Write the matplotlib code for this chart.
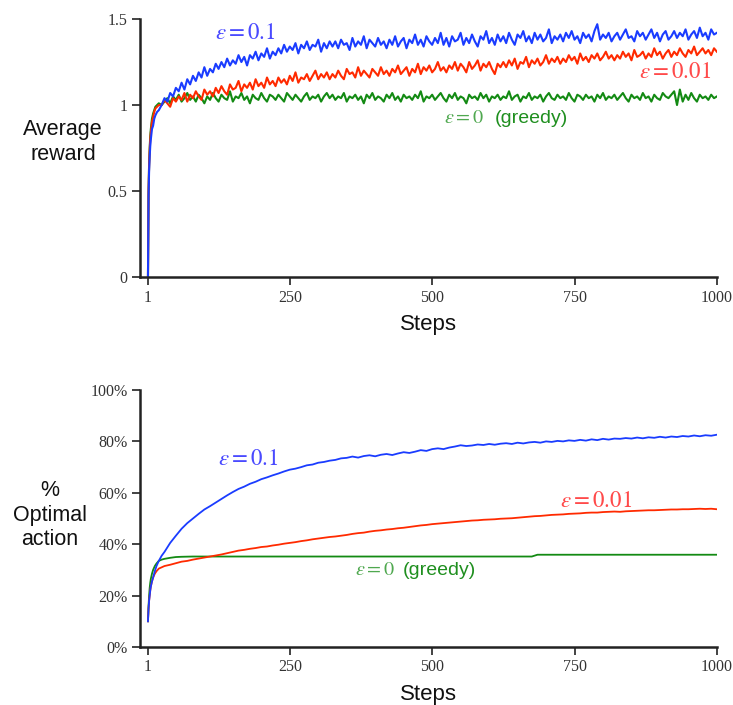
"""Average reward and % optimal action on the 10-armed testbed."""

import matplotlib.pyplot as plt

plt.rcParams["mathtext.fontset"] = "stix"

# ---------------- top panel: average reward ----------------
reward_steps = [1, 2, 3, 4, 5, 6, 8, 10, 12, 14, 17, 20] + list(range(25, 1001, 5))

reward_eps01 = [
    0.0, 0.47, 0.62, 0.70, 0.76, 0.80, 0.86, 0.88, 0.92, 0.94, 0.96, 0.97,
    1.00, 1.04, 1.02, 1.07, 1.05, 1.10, 1.08, 1.13, 1.09, 1.15, 1.12, 1.17, 1.14, 1.19, 1.16, 1.22, 1.17, 1.21, 1.19, 1.24,
    1.21, 1.25, 1.22, 1.27, 1.23, 1.26, 1.24, 1.29, 1.25, 1.28, 1.23, 1.29, 1.27, 1.31, 1.26, 1.30, 1.28, 1.33, 1.27, 1.31,
    1.29, 1.33, 1.30, 1.35, 1.31, 1.34, 1.32, 1.36, 1.30, 1.35, 1.33, 1.37, 1.32, 1.35, 1.34, 1.38, 1.31, 1.36, 1.33, 1.37,
    1.34, 1.37, 1.33, 1.38, 1.35, 1.36, 1.32, 1.39, 1.34, 1.37, 1.35, 1.40, 1.33, 1.38, 1.36, 1.34, 1.39, 1.35, 1.37, 1.33,
    1.38, 1.35, 1.40, 1.34, 1.37, 1.39, 1.33, 1.38, 1.36, 1.41, 1.35, 1.38, 1.34, 1.40, 1.37, 1.35, 1.39, 1.36, 1.42, 1.35,
    1.39, 1.34, 1.40, 1.37, 1.38, 1.42, 1.35, 1.39, 1.36, 1.41, 1.37, 1.34, 1.40, 1.38, 1.43, 1.36, 1.39, 1.35, 1.41, 1.37,
    1.40, 1.36, 1.42, 1.38, 1.35, 1.41, 1.39, 1.43, 1.37, 1.40, 1.36, 1.42, 1.38, 1.41, 1.37, 1.39, 1.44, 1.36, 1.40, 1.38,
    1.41, 1.37, 1.42, 1.39, 1.43, 1.38, 1.40, 1.36, 1.42, 1.39, 1.41, 1.37, 1.43, 1.47, 1.38, 1.41, 1.39, 1.42, 1.37, 1.40,
    1.42, 1.38, 1.41, 1.44, 1.39, 1.40, 1.37, 1.43, 1.40, 1.42, 1.38, 1.41, 1.44, 1.39, 1.42, 1.37, 1.41, 1.43, 1.38, 1.40,
    1.43, 1.39, 1.42, 1.40, 1.44, 1.38, 1.41, 1.43, 1.39, 1.45, 1.40, 1.42, 1.38, 1.44, 1.41, 1.42,
]

reward_eps001 = [
    0.0, 0.50, 0.65, 0.74, 0.80, 0.84, 0.90, 0.93, 0.96, 0.98, 0.99, 1.00,
    1.00, 1.03, 1.01, 0.99, 1.04, 1.02, 1.05, 1.03, 1.07, 1.02, 1.06, 1.04, 1.08, 1.05, 1.03, 1.09, 1.06, 1.08, 1.05, 1.10,
    1.07, 1.11, 1.08, 1.06, 1.12, 1.09, 1.10, 1.14, 1.08, 1.12, 1.10, 1.13, 1.09, 1.15, 1.11, 1.13, 1.10, 1.16, 1.12, 1.14,
    1.11, 1.16, 1.13, 1.15, 1.12, 1.17, 1.14, 1.19, 1.13, 1.16, 1.15, 1.18, 1.14, 1.17, 1.20, 1.15, 1.18, 1.16, 1.19, 1.15,
    1.18, 1.16, 1.20, 1.17, 1.15, 1.21, 1.18, 1.19, 1.16, 1.22, 1.17, 1.20, 1.18, 1.16, 1.21, 1.19, 1.17, 1.22, 1.18, 1.20,
    1.17, 1.21, 1.19, 1.23, 1.18, 1.20, 1.22, 1.17, 1.21, 1.19, 1.24, 1.18, 1.22, 1.20, 1.23, 1.19, 1.21, 1.25, 1.20, 1.22,
    1.19, 1.23, 1.21, 1.25, 1.20, 1.24, 1.22, 1.19, 1.25, 1.21, 1.23, 1.26, 1.20, 1.24, 1.22, 1.25, 1.21, 1.18, 1.24, 1.22,
    1.25, 1.22, 1.26, 1.23, 1.27, 1.21, 1.25, 1.24, 1.28, 1.22, 1.26, 1.24, 1.27, 1.23, 1.25, 1.29, 1.24, 1.27, 1.25, 1.28,
    1.24, 1.27, 1.25, 1.29, 1.26, 1.28, 1.24, 1.30, 1.26, 1.28, 1.25, 1.29, 1.27, 1.30, 1.26, 1.28, 1.31, 1.27, 1.29, 1.26,
    1.29, 1.27, 1.31, 1.28, 1.30, 1.26, 1.32, 1.28, 1.29, 1.31, 1.27, 1.30, 1.28, 1.33, 1.29, 1.31, 1.27, 1.30, 1.32, 1.28,
    1.31, 1.29, 1.33, 1.30, 1.28, 1.32, 1.30, 1.34, 1.29, 1.31, 1.33, 1.30, 1.32, 1.29, 1.33, 1.31,
]

reward_eps0 = [
    0.0, 0.48, 0.66, 0.75, 0.82, 0.86, 0.92, 0.95, 0.97, 0.99, 1.00, 1.01,
    1.00, 1.02, 1.04, 1.01, 1.05, 1.03, 1.06, 1.02, 1.04, 1.07, 1.03, 1.05, 1.02, 1.06, 1.04, 1.01, 1.05, 1.03, 1.07, 1.04,
    1.02, 1.06, 1.04, 1.03, 1.08, 1.02, 1.05, 1.04, 1.07, 1.03, 1.05, 1.01, 1.06, 1.04, 1.03, 1.07, 1.04, 1.02, 1.06, 1.05,
    1.03, 1.06, 1.04, 1.02, 1.07, 1.05, 1.03, 1.06, 1.04, 1.02, 1.05, 1.07, 1.03, 1.05, 1.04, 1.06, 1.02, 1.05, 1.07, 1.04,
    1.06, 1.03, 1.05, 1.04, 1.07, 1.02, 1.05, 1.04, 1.06, 1.03, 1.05, 1.01, 1.06, 1.04, 1.07, 1.03, 1.05, 1.04, 1.02, 1.06,
    1.04, 1.07, 1.03, 1.05, 1.02, 1.06, 1.04, 1.05, 1.03, 1.06, 1.04, 1.08, 1.02, 1.05, 1.04, 1.06, 1.03, 1.05, 1.07, 1.04,
    1.02, 1.06, 1.04, 1.07, 1.03, 1.05, 1.04, 1.01, 1.06, 1.04, 1.05, 1.03, 1.07, 1.04, 1.06, 1.02, 1.05, 1.04, 1.06, 1.03,
    1.05, 1.04, 1.08, 1.03, 1.05, 1.06, 1.02, 1.05, 1.04, 1.07, 1.03, 1.05, 1.04, 1.06, 1.02, 1.05, 1.07, 1.04, 1.03, 1.06,
    1.04, 1.05, 1.03, 1.07, 1.04, 1.02, 1.06, 1.05, 1.03, 1.06, 1.04, 1.05, 1.02, 1.06, 1.04, 1.07, 1.03, 1.05, 1.04, 1.06,
    1.03, 1.05, 1.07, 1.04, 1.02, 1.06, 1.04, 1.05, 1.03, 1.07, 1.04, 1.05, 1.02, 1.06, 1.04, 1.03, 1.07, 1.05, 1.04, 1.06,
    1.08, 1.00, 1.09, 1.02, 1.06, 1.03, 1.07, 1.04, 1.02, 1.06, 1.04, 1.05, 1.03, 1.06, 1.04, 1.05,
]

# ---------------- bottom panel: % optimal action ----------------
optimal_steps = [1, 2, 3, 4, 5, 6, 8, 10, 13, 16, 20, 25] + list(range(30, 1001, 10))

optimal_eps01 = [
    10, 15, 18, 20, 22, 23.5, 25.5, 27, 29.5, 31.5, 33.5, 35.5,
    37.0, 40.5, 43.3, 46.0, 48.2, 50.0, 51.8, 53.5, 54.8, 56.2,
    57.6, 59.0, 60.3, 61.5, 62.4, 63.5, 64.3, 65.3, 66.0, 66.8,
    67.5, 68.3, 69.0, 69.4, 70.0, 70.7, 71.0, 71.7, 72.0, 72.5,
    72.8, 73.4, 73.6, 74.1, 73.7, 74.3, 74.6, 74.2, 74.8, 75.1,
    74.7, 75.3, 75.8, 75.5, 76.0, 76.6, 76.3, 77.0, 77.3, 77.0,
    77.6, 78.0, 78.5, 78.2, 78.4, 78.8, 78.6, 79.0, 78.7, 79.1,
    79.3, 79.0, 79.5, 79.2, 79.6, 79.8, 79.5, 80.0, 79.8, 80.2,
    80.0, 80.4, 80.2, 80.6, 80.3, 80.8, 80.5, 81.0, 80.7, 81.1,
    81.0, 81.3, 81.1, 81.5, 81.2, 81.6, 81.4, 81.8, 81.5, 81.9,
    81.7, 82.1, 81.9, 82.3, 82.0, 82.4, 82.2, 82.6,
]

optimal_eps001 = [
    10, 15, 18, 20, 22, 23.5, 25.5, 27, 28.5, 29.5, 30.5, 31,
    31.5, 32.0, 32.6, 33.2, 33.5, 34.0, 34.4, 34.8, 35.2, 35.6,
    36.0, 36.5, 37.0, 37.5, 37.8, 38.2, 38.5, 38.9, 39.1, 39.5,
    39.8, 40.2, 40.5, 40.8, 41.2, 41.5, 41.9, 42.2, 42.5, 42.8,
    43.0, 43.3, 43.6, 44.0, 44.3, 44.5, 44.9, 45.2, 45.4, 45.7,
    45.9, 46.2, 46.4, 46.7, 47.0, 47.3, 47.5, 47.8, 48.0, 48.2,
    48.4, 48.6, 48.8, 49.0, 49.2, 49.3, 49.5, 49.6, 49.7, 49.9,
    50.0, 50.1, 50.3, 50.5, 50.7, 50.9, 51.0, 51.2, 51.4, 51.5,
    51.6, 51.8, 51.9, 52.0, 52.2, 52.3, 52.3, 52.5, 52.6, 52.7,
    52.6, 52.8, 52.9, 53.0, 53.1, 53.2, 53.2, 53.3, 53.4, 53.5,
    53.5, 53.6, 53.6, 53.7, 53.8, 53.7, 53.8, 53.6,
]

greedy_steps = [1, 2, 3, 4, 5, 6, 8, 10, 13, 16, 20, 25, 30, 40, 50, 60, 80,
                100, 200, 300, 400, 500, 600, 675, 685, 700, 800, 900, 1000]
optimal_eps0 = [10, 16, 20, 23, 25, 26.5, 28.5, 30, 31.5, 32.5, 33.5, 34, 34.3,
                34.7, 35.0, 35.1, 35.2, 35.2, 35.2, 35.2, 35.2, 35.2, 35.2, 35.2,
                35.9, 35.9, 35.9, 35.9, 35.9]

x_ticks = [1, 250, 500, 750, 1000]
reward_ticks = [0, 0.5, 1, 1.5]
reward_tick_labels = ["0", "0.5", "1", "1.5"]
optimal_ticks = [0, 20, 40, 60, 80, 100]
optimal_tick_labels = ["0%", "20%", "40%", "60%", "80%", "100%"]

BLUE, RED, GREEN = "#1a3cff", "#ff2a00", "#138a13"
SANS = "Liberation Sans"
SERIF = "Liberation Serif"


def style_axes(ax, yticks, ylabels, ymax):
    for side in ("top", "right"):
        ax.spines[side].set_visible(False)
    for side in ("left", "bottom"):
        ax.spines[side].set_linewidth(1.8)
        ax.spines[side].set_color("#222222")
    ax.set_xlim(-13, 1000)
    ax.set_ylim(0, ymax)
    ax.set_xticks(x_ticks)
    ax.set_xticklabels([str(t) for t in x_ticks], family=SERIF, fontsize=11.5, color="#333333")
    ax.set_yticks(yticks)
    ax.set_yticklabels(ylabels, family=SERIF, fontsize=11.5, color="#333333")
    ax.tick_params(direction="out", length=6, width=1.2, color="#222222", pad=3)
    ax.set_xlabel("Steps", family=SANS, fontsize=16, color="#111111", labelpad=6)


def greedy_label(ax, x_eps, x_word, y):
    # math part in serif, the word in sans, as in the original figure
    ax.text(x_eps, y, r"$\varepsilon = 0$", color="#4fa84f", fontsize=14.5)
    ax.text(x_word, y, "(greedy)", color="#1f8f1f", fontsize=14, family=SANS)


fig = plt.figure(figsize=(7.33, 7.05), dpi=100)

# top panel
ax1 = fig.add_axes([0.191, 0.607, 0.787, 0.366])
ax1.plot(reward_steps, reward_eps0, color=GREEN, lw=1.5)
ax1.plot(reward_steps, reward_eps001, color=RED, lw=1.5)
ax1.plot(reward_steps, reward_eps01, color=BLUE, lw=1.5)
style_axes(ax1, reward_ticks, reward_tick_labels, 1.5)

ax1.text(119, 1.385, r"$\varepsilon = 0.1$", color="#4a4aff", fontsize=16.5)
ax1.text(863, 1.157, r"$\varepsilon = 0.01$", color="#ff4a4a", fontsize=16.5)
greedy_label(ax1, 521, 610, 0.897)
fig.text(63 / 733, 1 - 142 / 705, "Average\nreward", family=SANS, fontsize=15.5,
         ha="center", va="center", color="#111111")

# bottom panel
ax2 = fig.add_axes([0.191, 0.0823, 0.787, 0.3645])
ax2.plot(greedy_steps, optimal_eps0, color=GREEN, lw=1.3)
ax2.plot(optimal_steps, optimal_eps001, color=RED, lw=1.3)
ax2.plot(optimal_steps, optimal_eps01, color=BLUE, lw=1.3)
style_axes(ax2, optimal_ticks, optimal_tick_labels, 100)

ax2.text(124, 70.8, r"$\varepsilon = 0.1$", color="#4a4aff", fontsize=16.5)
ax2.text(724, 54.5, r"$\varepsilon = 0.01$", color="#ff4a4a", fontsize=16.5)
greedy_label(ax2, 364, 449, 28.0)
fig.text(50 / 733, 1 - 515 / 705, "%\nOptimal\naction", family=SANS, fontsize=15.5,
         ha="center", va="center", color="#111111")

fig.savefig("out.png", dpi=100)
